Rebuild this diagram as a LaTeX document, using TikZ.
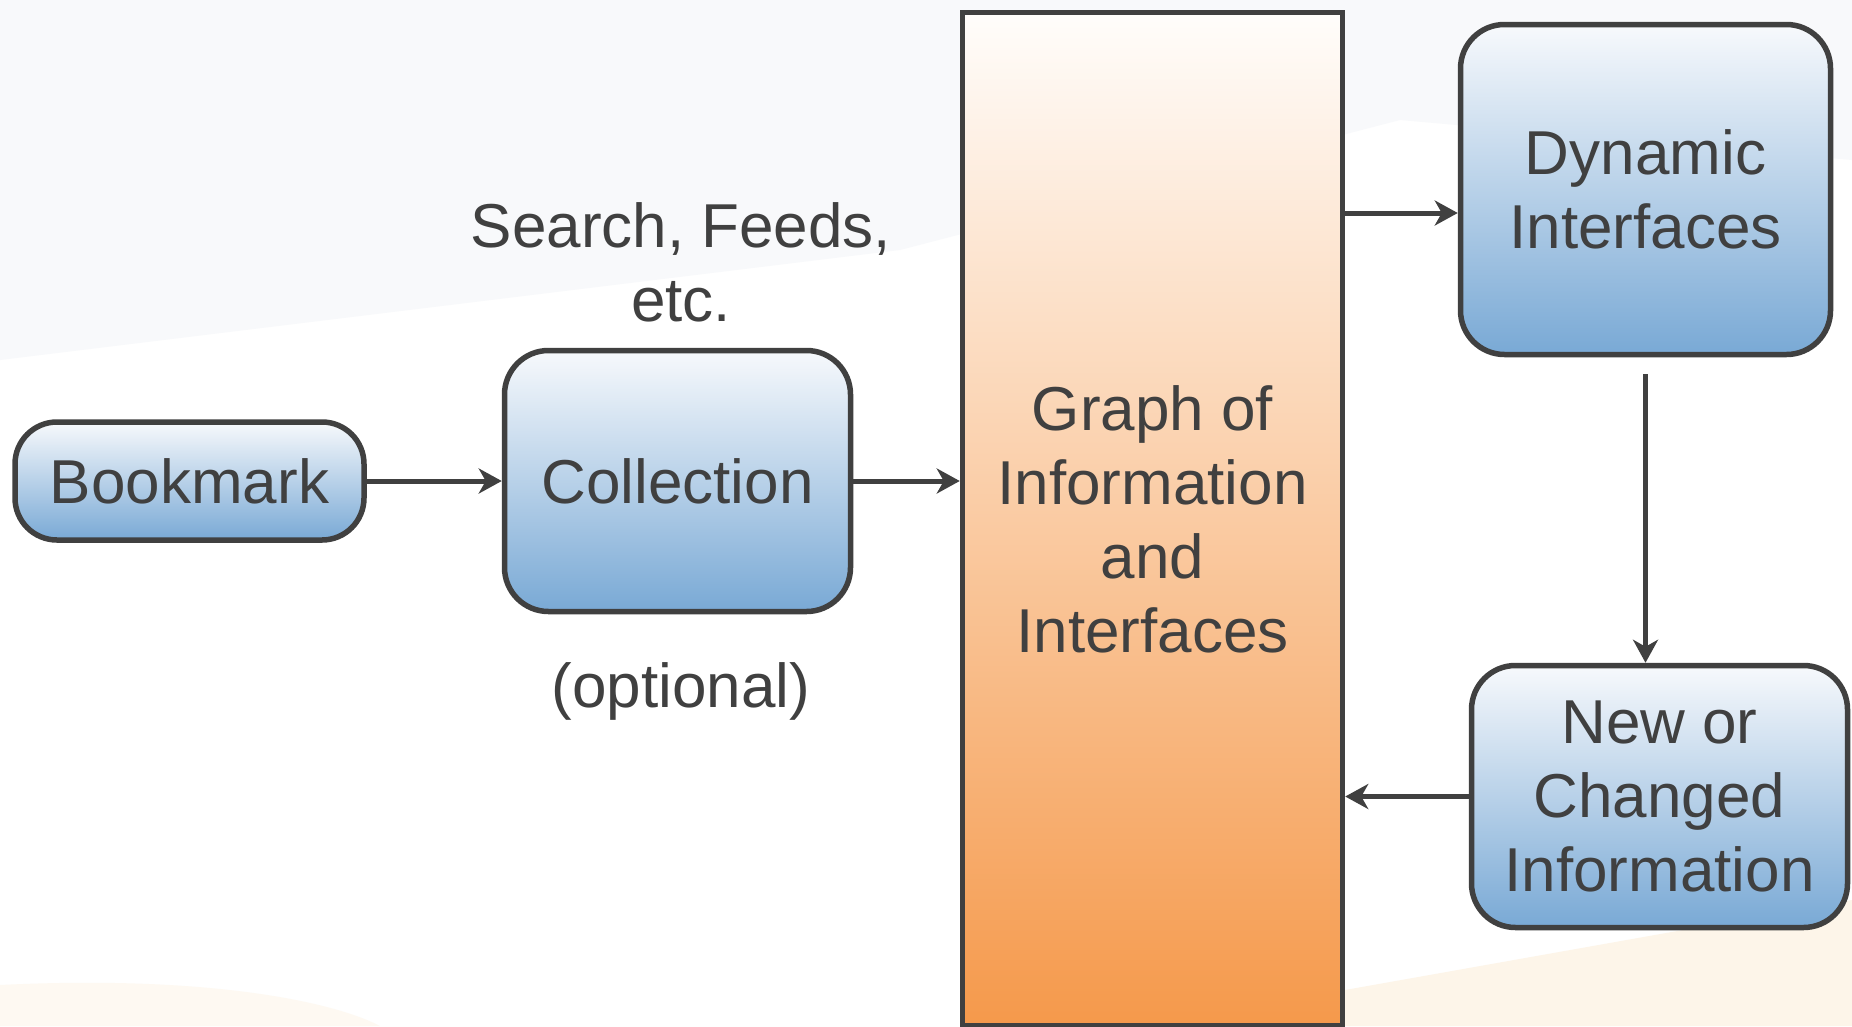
\documentclass[tikz,border=0pt]{standalone}
\usepackage{fontspec}
\setmainfont{Liberation Sans}
\usetikzlibrary{arrows.meta}
\definecolor{ink}{HTML}{404040}
\definecolor{bluetop}{HTML}{F7F9FC}
\definecolor{bluebot}{HTML}{79A9D5}
\definecolor{orgtop}{HTML}{FFFDFB}
\definecolor{orgbot}{HTML}{F5994B}
\definecolor{bggray}{HTML}{F8F9FB}
\definecolor{bgorange}{HTML}{FDF5E9}
\tikzset{
  box/.style={draw=ink, line width=5.5pt, rounded corners=44pt, top color=bluetop, bottom color=bluebot,
    text=ink, align=center, font=\fontsize{62}{74}\selectfont, inner sep=0pt},
  bigbox/.style={draw=ink, line width=5.5pt, top color=orgtop, bottom color=orgbot,
    text=ink, align=center, font=\fontsize{62}{74}\selectfont, inner sep=0pt},
  lbl/.style={text=ink, align=center, font=\fontsize{62}{74}\selectfont, inner sep=0pt},
  conn/.style={draw=ink, line width=5pt, -{Stealth[length=23pt,width=25pt,inset=7pt]}}
}
\begin{document}
\begin{tikzpicture}[x=1pt,y=-1pt]
\useasboundingbox (0,0) rectangle (1852,1026);
\fill[white] (0,0) rectangle (1852,1026);
% faint background swooshes
\fill[bggray] (0,0) -- (1852,0) -- (1852,160) -- (1400,120) -- (900,250) -- (0,360) -- cycle;
\fill[bgorange] (1345,990) -- (1852,900) -- (1852,1026) -- (1345,1026) -- cycle;
\fill[bgorange!60!white] (0,985) .. controls (200,975) and (330,1000) .. (380,1026) -- (0,1026) -- cycle;

\node[box, rounded corners=42pt, minimum width=349pt, minimum height=118pt] (bm) at (189.5,481) {Bookmark};
\node[box, minimum width=346pt, minimum height=261pt] (col) at (677.5,481) {Collection};
\node[bigbox, minimum width=380pt, minimum height=1013pt] (graph) at (1152.5,519)
  {Graph of\\Information\\and\\Interfaces};
\node[box, minimum width=370pt, minimum height=330pt] (dyn) at (1645.5,189.5) {Dynamic\\Interfaces};
\node[box, minimum width=376pt, minimum height=262pt] (new) at (1659.5,796.5) {New or\\Changed\\Information};

\node[lbl] (search) at (681,262) {Search, Feeds,\\etc.};
\node[lbl] (opt) at (681,691) {(optional)};

\draw[conn] (bm.east) -- (col.west);
\draw[conn] (col.east) -- (graph.west |- col.east);
\coordinate (dynin) at ([yshift=-23.5pt]dyn.west);
\draw[conn] (graph.east |- dynin) -- (dynin);
\coordinate (dynout) at ([yshift=-17pt]dyn.south);
\draw[conn] (dynout) -- (new.north -| dynout);
\draw[conn] (new.west) -- (graph.east |- new.west);
\end{tikzpicture}
\end{document}
